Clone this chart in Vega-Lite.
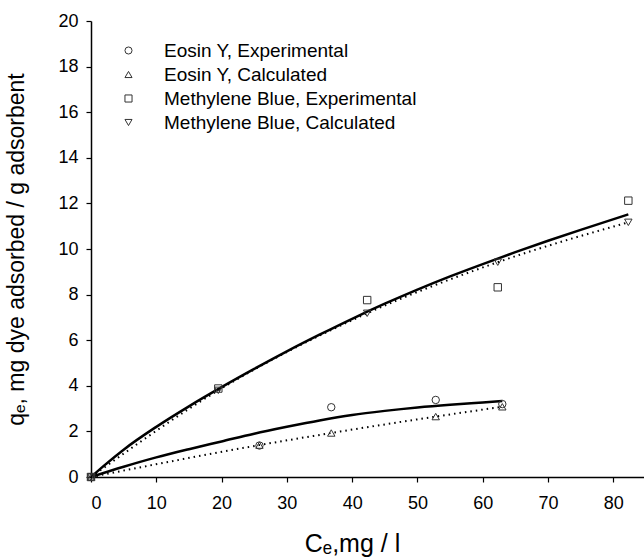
{
  "$schema": "https://vega.github.io/schema/vega-lite/v6.json",
  "width": 553,
  "height": 456,
  "autosize": {"type": "none"},
  "padding": {"left": 91, "top": 21, "right": 0, "bottom": 83},
  "background": "white",
  "config": {
    "view": {"stroke": null},
    "font": "Liberation Sans",
    "axis": {
      "domainColor": "black", "domainWidth": 1.5,
      "tickColor": "black", "tickWidth": 1.2, "tickSize": 5,
      "labelColor": "black", "labelFontSize": 18, "labelFont": "Liberation Sans",
      "titleColor": "black", "titleFontWeight": "normal", "titleFont": "Liberation Sans",
      "grid": false
    }
  },
  "datasets": {
    "pts": [
      {"series": "Eosin Y, Experimental", "c": 0, "q": 0},
      {"series": "Eosin Y, Experimental", "c": 25.8, "q": 1.38},
      {"series": "Eosin Y, Experimental", "c": 36.8, "q": 3.06},
      {"series": "Eosin Y, Experimental", "c": 52.8, "q": 3.38},
      {"series": "Eosin Y, Experimental", "c": 63.0, "q": 3.2},
      {"series": "Eosin Y, Calculated", "c": 0, "q": 0},
      {"series": "Eosin Y, Calculated", "c": 25.8, "q": 1.4},
      {"series": "Eosin Y, Calculated", "c": 36.8, "q": 1.93},
      {"series": "Eosin Y, Calculated", "c": 52.8, "q": 2.65},
      {"series": "Eosin Y, Calculated", "c": 63.0, "q": 3.08},
      {"series": "Methylene Blue, Experimental", "c": 0, "q": 0},
      {"series": "Methylene Blue, Experimental", "c": 19.5, "q": 3.88},
      {"series": "Methylene Blue, Experimental", "c": 42.3, "q": 7.76},
      {"series": "Methylene Blue, Experimental", "c": 62.3, "q": 8.32},
      {"series": "Methylene Blue, Experimental", "c": 82.3, "q": 12.12},
      {"series": "Methylene Blue, Calculated", "c": 0, "q": 0},
      {"series": "Methylene Blue, Calculated", "c": 19.5, "q": 3.8},
      {"series": "Methylene Blue, Calculated", "c": 42.3, "q": 7.18},
      {"series": "Methylene Blue, Calculated", "c": 62.3, "q": 9.42},
      {"series": "Methylene Blue, Calculated", "c": 82.3, "q": 11.17}
    ],
    "fit": [
      {"curve": "MB", "c": 0, "q": 0},
      {"curve": "MB", "c": 2, "q": 0.5},
      {"curve": "MB", "c": 5, "q": 1.2},
      {"curve": "MB", "c": 10, "q": 2.2},
      {"curve": "MB", "c": 15, "q": 3.1},
      {"curve": "MB", "c": 20, "q": 3.94},
      {"curve": "MB", "c": 25, "q": 4.74},
      {"curve": "MB", "c": 30, "q": 5.51},
      {"curve": "MB", "c": 35, "q": 6.24},
      {"curve": "MB", "c": 40, "q": 6.94},
      {"curve": "MB", "c": 45, "q": 7.6},
      {"curve": "MB", "c": 50, "q": 8.22},
      {"curve": "MB", "c": 55, "q": 8.8},
      {"curve": "MB", "c": 60, "q": 9.34},
      {"curve": "MB", "c": 65, "q": 9.86},
      {"curve": "MB", "c": 70, "q": 10.36},
      {"curve": "MB", "c": 75, "q": 10.84},
      {"curve": "MB", "c": 82.3, "q": 11.52},
      {"curve": "EY", "c": 0, "q": 0},
      {"curve": "EY", "c": 5, "q": 0.45},
      {"curve": "EY", "c": 10, "q": 0.86},
      {"curve": "EY", "c": 15, "q": 1.22},
      {"curve": "EY", "c": 20, "q": 1.56},
      {"curve": "EY", "c": 25, "q": 1.9},
      {"curve": "EY", "c": 30, "q": 2.2},
      {"curve": "EY", "c": 35, "q": 2.48},
      {"curve": "EY", "c": 40, "q": 2.72},
      {"curve": "EY", "c": 45, "q": 2.9},
      {"curve": "EY", "c": 50, "q": 3.05},
      {"curve": "EY", "c": 55, "q": 3.17},
      {"curve": "EY", "c": 60, "q": 3.27},
      {"curve": "EY", "c": 63, "q": 3.33}
    ]
  },
  "layer": [
    {
      "mark": {"type": "rule", "color": "black", "strokeWidth": 1.5},
      "encoding": {"y": {"datum": 20, "type": "quantitative"}}
    },
    {
      "data": {"name": "fit"},
      "mark": {"type": "line", "color": "black", "strokeWidth": 2.5, "interpolate": "monotone"},
      "encoding": {
        "x": {"field": "c", "type": "quantitative"},
        "y": {"field": "q", "type": "quantitative"},
        "detail": {"field": "curve"}
      }
    },
    {
      "data": {"name": "pts"},
      "transform": [{"filter": "indexof(datum.series, 'Calculated') >= 0"}],
      "mark": {"type": "line", "color": "black", "strokeWidth": 2, "strokeDash": [1.5, 4], "interpolate": "monotone"},
      "encoding": {
        "x": {"field": "c", "type": "quantitative"},
        "y": {"field": "q", "type": "quantitative"},
        "detail": {"field": "series"}
      }
    },
    {
      "data": {"name": "pts"},
      "mark": {"type": "point", "filled": false, "stroke": "#333", "strokeWidth": 1, "size": 55, "opacity": 1},
      "encoding": {
        "x": {
          "field": "c", "type": "quantitative",
          "scale": {"domain": [0, 84.7], "nice": false, "zero": false},
          "axis": {"values": [0, 10, 20, 30, 40, 50, 60, 70, 80], "labelPadding": 12, "titleX": 261, "titlePadding": 19, "titleFontSize": 25},
          "title": "Cₑ,mg / l"
        },
        "y": {
          "field": "q", "type": "quantitative",
          "scale": {"domain": [0, 20], "nice": false},
          "axis": {"values": [0, 2, 4, 6, 8, 10, 12, 14, 16, 18, 20], "labelPadding": 8, "titlePadding": 29, "titleFontSize": 23},
          "title": "qₑ, mg dye adsorbed / g adsorbent"
        },
        "shape": {
          "field": "series", "type": "nominal",
          "scale": {
            "domain": ["Eosin Y, Experimental", "Eosin Y, Calculated", "Methylene Blue, Experimental", "Methylene Blue, Calculated"],
            "range": ["circle", "triangle-up", "square", "triangle-down"]
          },
          "legend": {
            "orient": "none", "legendX": 28, "legendY": 20, "title": null,
            "labelFontSize": 19, "labelFont": "Liberation Sans", "labelColor": "black", "labelLimit": 0,
            "symbolSize": 50, "symbolStrokeColor": "#333", "symbolStrokeWidth": 1, "symbolFillColor": "transparent",
            "labelOffset": 26, "rowPadding": 4
          }
        }
      }
    }
  ]
}
